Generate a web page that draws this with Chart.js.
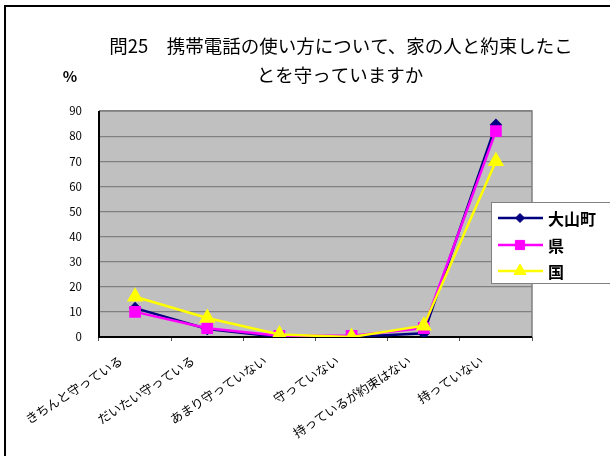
<!DOCTYPE html>
<html>
<head>
<meta charset="utf-8">
<script src="https://cdn.jsdelivr.net/npm/chart.js@4"></script>
<style>
  html, body { margin: 0; padding: 0; background: #fff; }
  #wrap { width: 610px; height: 456px; position: relative; }
</style>
</head>
<body>
<div id="wrap"><canvas id="linechart"></canvas></div>
<script>
const categories = ['きちんと守っている', 'だいたい守っている', 'あまり守っていない', '守っていない', '持っているが約束はない', '持っていない'];
const oyama = [11.5, 3.2, 0, 0, 1.5, 84.5];
const ken = [10, 3.5, 0.5, 0.5, 3.5, 82];
const kuni = [16, 7.6, 1, 0, 4.5, 70];
const seriesNames = ['大山町', '県', '国'];
const titleLines = ['問25　携帯電話の使い方について、家の人と約束したこ', 'とを守っていますか'];

const JP = '"Noto Sans CJK JP", "Noto Sans", sans-serif';

// grey plot background, frame, title, legend
const plotBg = {
  id: 'plotBg',
  beforeDraw(chart) {
    const a = chart.chartArea, c = chart.ctx;
    c.save();
    c.fillStyle = '#fff';
    c.fillRect(0, 0, chart.width, chart.height);
    c.fillStyle = '#C0C0C0';
    c.fillRect(a.left, a.top, a.right - a.left, a.bottom - a.top);
    c.restore();
  },
  beforeDatasetsDraw(chart) {
    const a = chart.chartArea, c = chart.ctx;
    c.save();
    c.strokeStyle = '#808080';
    c.lineWidth = 1.5;
    c.beginPath();
    c.moveTo(a.left, a.top); c.lineTo(a.right, a.top); c.lineTo(a.right, a.bottom);
    c.stroke();
    c.strokeStyle = '#000';
    c.lineWidth = 2;
    c.beginPath();
    c.moveTo(a.left, a.top); c.lineTo(a.left, a.bottom); c.lineTo(a.right, a.bottom);
    c.stroke();
    c.restore();
  },
  afterDraw(chart) {
    const c = chart.ctx;
    c.save();
    c.strokeStyle = '#000';
    c.lineWidth = 2;
    c.beginPath();
    c.moveTo(5, 460); c.lineTo(5, 6); c.lineTo(615, 6);
    c.stroke();
    // title
    c.fillStyle = '#000';
    c.textAlign = 'center';
    c.textBaseline = 'middle';
    c.font = '18.5px ' + JP;
    c.fillText(titleLines[0], 341, 46);
    c.fillText(titleLines[1], 340, 75);
    c.font = 'bold 15px ' + JP;
    c.fillText('%', 70, 76);
    // legend
    c.fillStyle = '#fff';
    c.fillRect(491, 202, 125, 81);
    c.strokeStyle = '#808080';
    c.lineWidth = 1;
    c.strokeRect(491.5, 202.5, 125, 81);
    const ys = [218, 245, 271];
    chart.data.datasets.forEach((ds, i) => {
      c.strokeStyle = ds.borderColor;
      c.lineWidth = 2.5;
      c.beginPath();
      c.moveTo(498, ys[i]); c.lineTo(543, ys[i]);
      c.stroke();
      c.fillStyle = ds.borderColor;
      c.lineWidth = 1;
      Chart.helpers.drawPoint(c, {
        pointStyle: ds.pointStyle, radius: ds.pointRadius, borderWidth: 1
      }, 520, ys[i]);
      c.fillStyle = '#000';
      c.textAlign = 'left';
      c.font = 'bold 16px ' + JP;
      c.fillText(seriesNames[i], 548, ys[i] + 1);
    });
    c.restore();
  }
};

const ctx = document.getElementById('linechart');
const linechart = new Chart(ctx, {
  type: 'line',
  data: {
    labels: categories,
    datasets: [{
      label: seriesNames[0],
      data: oyama,
      borderColor: '#000080',
      backgroundColor: '#000080',
      pointBorderColor: '#000080',
      pointStyle: 'rectRot',
      pointRadius: 4.5,
      borderWidth: 2.5,
      order: 3
    },
    {
      label: seriesNames[1],
      data: ken,
      borderColor: '#FF00FF',
      backgroundColor: '#FF00FF',
      pointBorderColor: '#FF00FF',
      pointStyle: 'rect',
      pointRadius: 6.5,
      borderWidth: 2.5,
      order: 2
    },
    {
      label: seriesNames[2],
      data: kuni,
      borderColor: '#FFFF00',
      backgroundColor: '#FFFF00',
      pointBorderColor: '#FFFF00',
      pointStyle: 'triangle',
      pointRadius: 7,
      borderWidth: 2.5,
      order: 1
    }]
  },
  options: {
    responsive: true,
    maintainAspectRatio: false,
    animation: false,
    devicePixelRatio: 1,
    layout: { padding: { top: 111, left: 0, right: 78, bottom: 0 } },
    plugins: {
      legend: { display: false },
      title: { display: false },
      tooltip: { enabled: false }
    },
    scales: {
      y: {
        min: 0,
        max: 90,
        ticks: { stepSize: 10, color: '#000', padding: 17, font: { family: JP, size: 11.5 } },
        grid: { color: '#808080', lineWidth: 1.2, drawTicks: false },
        border: { display: false },
        afterFit(scale) { scale.width = 99; }
      },
      x: {
        offset: true,
        ticks: { color: '#000', minRotation: 33, maxRotation: 33, autoSkip: false, padding: 12, labelOffset: -14, font: { family: JP, size: 12.5 } },
        grid: { offset: true, drawOnChartArea: false, color: '#555', tickLength: 4 },
        border: { display: false },
        afterFit(scale) { scale.height = 119; }
      }
    }
  },
  plugins: [plotBg]
});
</script>
</body>
</html>
